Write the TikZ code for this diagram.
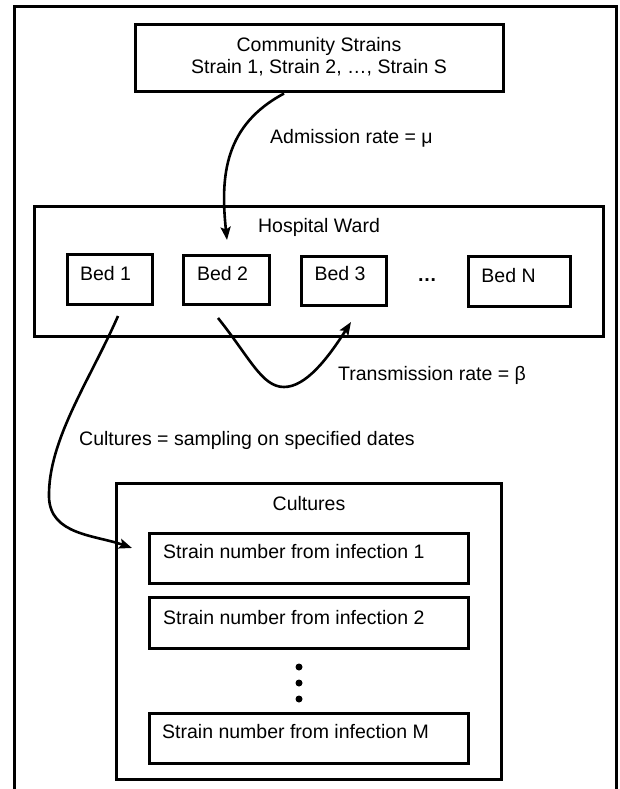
\documentclass[tikz,border=0pt]{standalone}
\usepackage{fontspec}
\setmainfont{Liberation Sans}
\usetikzlibrary{arrows.meta}
\begin{document}
\begin{tikzpicture}[x=1pt,y=-1pt,
  frameline/.style={line width=3pt, line join=miter},
  box/.style={draw, line width=3pt, rectangle, inner sep=0pt},
  txt/.style={anchor=base, inner sep=0pt, font=\fontsize{19.5}{22}\selectfont},
  txtw/.style={anchor=base west, inner sep=0pt, font=\fontsize{19.5}{22}\selectfont},
  arr/.style={line width=2.6pt, -{Stealth[length=13pt,width=10pt,inset=2.5pt]}},
  dot/.style={circle, fill, inner sep=0pt, minimum size=7pt}]
\useasboundingbox (0,0) rectangle (619,789);
\fill[white] (0,0) rectangle (619,789);
% outer frame (open at the bottom)
\draw[frameline] (14,789) -- (14,7) -- (616,7) -- (616,789);

% community
\node[box, minimum width=368pt, minimum height=67pt] (comm) at (319,58.5) {};
\node[txt] (commt1) at (319,52) {Community Strains};
\node[txt] (commt2) at (319,74) {Strain 1, Strain 2, …, Strain S};
\node[txtw] (admt) at (270,143) {Admission rate = μ};

% hospital ward
\node[box, minimum width=569pt, minimum height=130pt] (ward) at (318.5,271.5) {};
\node[txt] (wardt) at (319,232) {Hospital Ward};
\node[box, minimum width=85pt, minimum height=50pt] (b1) at (109.5,279) {};
\node[txt] (b1t) at (105.5,280) {Bed 1};
\node[box, minimum width=86pt, minimum height=49pt] (b2) at (226,279.5) {};
\node[txt] (b2t) at (222.5,280) {Bed 2};
\node[box, minimum width=85pt, minimum height=49pt] (b3) at (343.5,280.5) {};
\node[txt] (b3t) at (340,280) {Bed 3};
\node[txt, font=\fontsize{19.5}{22}\selectfont\bfseries] (bdots) at (427,281) {…};
\node[box, minimum width=102pt, minimum height=50pt] (bN) at (519,281) {};
\node[txt] (bNt) at (508.5,282) {Bed N};

\node[txtw] (trt) at (338,380) {Transmission rate = β};
\node[txtw] (cult) at (79,445) {Cultures = sampling on specified dates};

% cultures
\node[box, minimum width=385pt, minimum height=296pt] (cbox) at (308.5,631) {};
\node[txt] (cboxt) at (309,510) {Cultures};
\node[box, minimum width=319pt, minimum height=50pt] (s1) at (308.5,558) {};
\node[txtw] (s1t) at (163,558) {Strain number from infection 1};
\node[box, minimum width=319pt, minimum height=51pt] (s2) at (308.5,622.5) {};
\node[txtw] (s2t) at (163,624) {Strain number from infection 2};
\node[dot] (d1) at (299,667) {};
\node[dot] (d2) at (299,683) {};
\node[dot] (d3) at (299,699) {};
\node[box, minimum width=319pt, minimum height=50pt] (sM) at (308.5,738) {};
\node[txtw] (sMt) at (162,738) {Strain number from infection M};

% connectors
\coordinate (admtip) at (227,240);
\draw[arr] ([xshift=-35pt]comm.south) .. controls (225,125) and (220,175) .. (admtip);

\coordinate (trs) at (218,318);
\coordinate (trb) at (284,387);
\coordinate (trtip) at (351,322);
\draw[arr] (trs) .. controls (250,358) and (262,387) .. (trb) .. controls (306,387) and (328,358) .. (trtip);

\coordinate (cs) at (118,316);
\coordinate (cm) at (49,497);
\coordinate (ctip) at (132,548);
\draw[arr] (cs) .. controls (90,380) and (48,440) .. (cm) .. controls (50,535) and (95,535) .. (ctip);
\end{tikzpicture}
\end{document}
